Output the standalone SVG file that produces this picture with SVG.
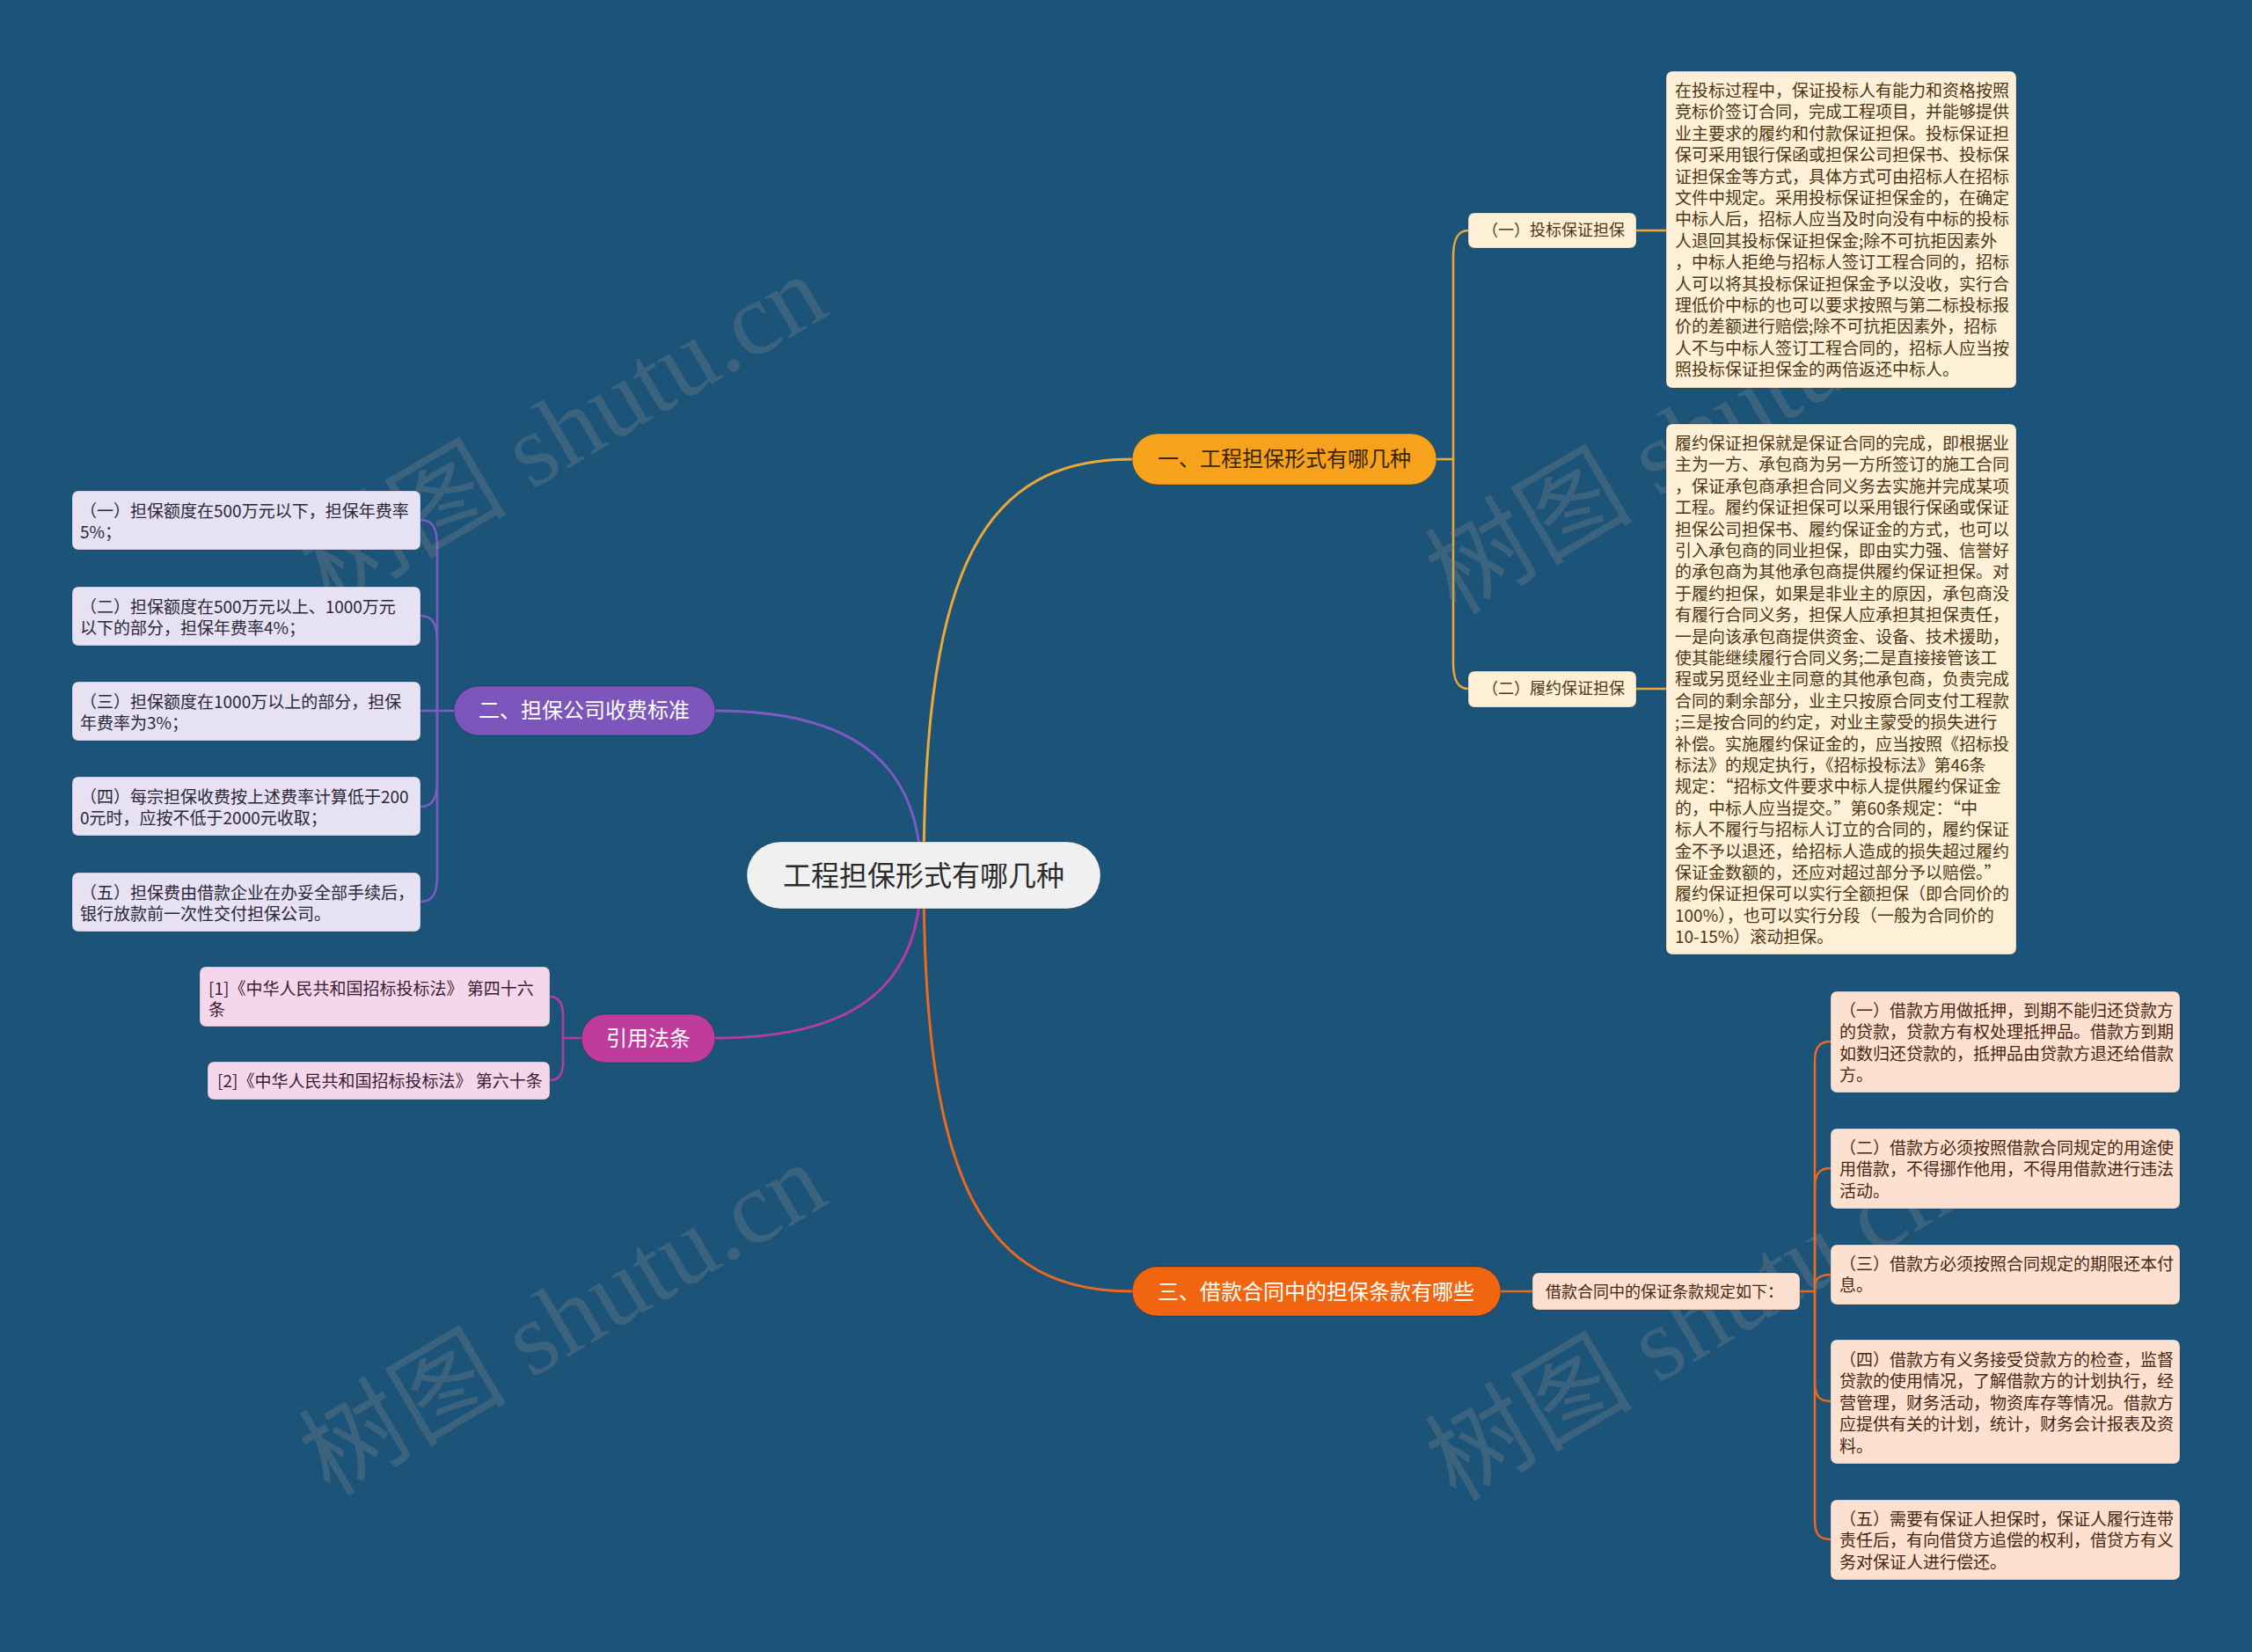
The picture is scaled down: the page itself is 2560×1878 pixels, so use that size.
<svg xmlns="http://www.w3.org/2000/svg" width="2560" height="1878" viewBox="0 0 2560 1878">
<style>
text{font-family:"Noto Sans CJK SC","Noto Sans",sans-serif}
.sm{font-size:19px}
.box{stroke:rgba(0,0,0,0.18);stroke-width:1}
.cream{fill:#fdf0d7}
.cream-t{fill:#4d3614}
.lav{fill:#e6e1f3}
.lav-t{fill:#2b2838}
.pink{fill:#f5d7ec}
.pink-t{fill:#3a1d33}
.peach{fill:#fde1d0}
.peach-t{fill:#4a2613}
.pill{font-size:24px;text-anchor:middle}
.c{fill:none;stroke-linecap:round}
.wm{font-family:"Liberation Serif","Noto Sans CJK SC",serif;font-size:118px;fill:rgba(140,140,140,0.28)}
</style>
<rect width="2560" height="1878" fill="#1c5479"/>

<g id="connectors">
  <path class="c" d="M1050 995 C1050 640 1120 522 1287 522" stroke="#eea935" stroke-width="3"/>
  <path class="c" d="M1050 995 C1050 1350 1120 1468 1287 1468" stroke="#ec6a1d" stroke-width="3"/>
  <path class="c" d="M1047 995 C1047 860 960 808 813 808" stroke="#7e5bc2" stroke-width="3"/>
  <path class="c" d="M1047 995 C1047 1130 960 1180 813 1180" stroke="#b33ea0" stroke-width="3"/>
  <g stroke="#eea935" stroke-width="2.5" class="c">
    <path class="c" d="M1633 522 H1652 V292 C1652 270 1658 262 1669 262"/>
    <path class="c" d="M1652 522 V753 C1652 775 1658 783 1669 783"/>
    <path class="c" d="M1860 262 H1894"/>
    <path class="c" d="M1860 783 H1894"/>
  </g>
  <g stroke="#7e5bc2" stroke-width="2.5" class="c">
    <path class="c" d="M516 808 H497 V621 C497 599 491 591 478 591"/>
    <path class="c" d="M497 808 V730 C497 708 491 700 478 700"/>
    <path class="c" d="M497 808 H478"/>
    <path class="c" d="M497 808 V887 C497 909 491 917 478 917"/>
    <path class="c" d="M497 808 V995 C497 1017 491 1025 478 1025"/>
  </g>
  <g stroke="#b33ea0" stroke-width="2.5" class="c">
    <path class="c" d="M661 1180 H640 V1155 C640 1141 635 1133 625 1133"/>
    <path class="c" d="M640 1180 V1208 C640 1222 635 1228 625 1228"/>
  </g>
  <g stroke="#ec6a1d" stroke-width="2.5" class="c">
    <path class="c" d="M1706 1468 H1742"/>
    <path class="c" d="M2046 1468 H2063 V1206 C2063 1190 2069 1184 2081 1184"/>
    <path class="c" d="M2063 1468 V1350 C2063 1334 2069 1328 2081 1328"/>
    <path class="c" d="M2063 1468 V1462 C2063 1454 2069 1449 2081 1449"/>
    <path class="c" d="M2063 1468 V1572 C2063 1588 2069 1593 2081 1593"/>
    <path class="c" d="M2063 1468 V1729 C2063 1745 2069 1750 2081 1750"/>
  </g>
</g>

<g id="watermarks">
  <text class="wm" transform="translate(375 692) rotate(-30.5)">树图 shutu.cn</text>
  <text class="wm" transform="translate(1655 700) rotate(-30.5)">树图 shutu.cn</text>
  <text class="wm" transform="translate(375 1702) rotate(-30.5)">树图 shutu.cn</text>
  <text class="wm" transform="translate(1655 1708) rotate(-30.5)">树图 shutu.cn</text>
</g>

<g id="center">
  <rect x="849" y="957" width="402" height="76" rx="38" fill="#f0f0f0" stroke="rgba(0,0,0,0.2)"/>
  <text x="1050" y="1007" font-size="32" text-anchor="middle" fill="#2b2b2b">工程担保形式有哪几种</text>
</g>

<g id="branch1">
  <rect x="1287" y="493" width="346" height="58" rx="29" fill="#f7a21c" stroke="rgba(0,0,0,0.25)"/>
  <text class="pill" x="1460" y="530" fill="#3a2606">一、工程担保形式有哪几种</text>
</g>
<g id="b1-sub1">
  <rect class="box cream" x="1669" y="242" width="191" height="40" rx="7"/>
  <text x="1766" y="268" font-size="18" text-anchor="middle" class="cream-t">（一）投标保证担保</text>
</g>
<g id="b1-sub2">
  <rect class="box cream" x="1669" y="763" width="191" height="41" rx="7"/>
  <text x="1766" y="789" font-size="18" text-anchor="middle" class="cream-t">（二）履约保证担保</text>
</g>
<g id="b1-text1">
  <rect class="box cream" x="1894" y="81" width="398" height="360" rx="7"/>
  <text class="sm cream-t"><tspan x="1904" y="110">在投标过程中，保证投标人有能力和资格按照</tspan><tspan x="1904" dy="24.4">竞标价签订合同，完成工程项目，并能够提供</tspan><tspan x="1904" dy="24.4">业主要求的履约和付款保证担保。投标保证担</tspan><tspan x="1904" dy="24.4">保可采用银行保函或担保公司担保书、投标保</tspan><tspan x="1904" dy="24.4">证担保金等方式，具体方式可由招标人在招标</tspan><tspan x="1904" dy="24.4">文件中规定。采用投标保证担保金的，在确定</tspan><tspan x="1904" dy="24.4">中标人后，招标人应当及时向没有中标的投标</tspan><tspan x="1904" dy="24.4">人退回其投标保证担保金;除不可抗拒因素外</tspan><tspan x="1904" dy="24.4">，中标人拒绝与招标人签订工程合同的，招标</tspan><tspan x="1904" dy="24.4">人可以将其投标保证担保金予以没收，实行合</tspan><tspan x="1904" dy="24.4">理低价中标的也可以要求按照与第二标投标报</tspan><tspan x="1904" dy="24.4">价的差额进行赔偿;除不可抗拒因素外，招标</tspan><tspan x="1904" dy="24.4">人不与中标人签订工程合同的，招标人应当按</tspan><tspan x="1904" dy="24.4">照投标保证担保金的两倍返还中标人。</tspan></text>
</g>
<g id="b1-text2">
  <rect class="box cream" x="1894" y="482" width="398" height="603" rx="7"/>
  <text class="sm cream-t"><tspan x="1904" y="511">履约保证担保就是保证合同的完成，即根据业</tspan><tspan x="1904" dy="24.4">主为一方、承包商为另一方所签订的施工合同</tspan><tspan x="1904" dy="24.4">，保证承包商承担合同义务去实施并完成某项</tspan><tspan x="1904" dy="24.4">工程。履约保证担保可以采用银行保函或保证</tspan><tspan x="1904" dy="24.4">担保公司担保书、履约保证金的方式，也可以</tspan><tspan x="1904" dy="24.4">引入承包商的同业担保，即由实力强、信誉好</tspan><tspan x="1904" dy="24.4">的承包商为其他承包商提供履约保证担保。对</tspan><tspan x="1904" dy="24.4">于履约担保，如果是非业主的原因，承包商没</tspan><tspan x="1904" dy="24.4">有履行合同义务，担保人应承担其担保责任，</tspan><tspan x="1904" dy="24.4">一是向该承包商提供资金、设备、技术援助，</tspan><tspan x="1904" dy="24.4">使其能继续履行合同义务;二是直接接管该工</tspan><tspan x="1904" dy="24.4">程或另觅经业主同意的其他承包商，负责完成</tspan><tspan x="1904" dy="24.4">合同的剩余部分，业主只按原合同支付工程款</tspan><tspan x="1904" dy="24.4">;三是按合同的约定，对业主蒙受的损失进行</tspan><tspan x="1904" dy="24.4">补偿。实施履约保证金的，应当按照《招标投</tspan><tspan x="1904" dy="24.4">标法》的规定执行，《招标投标法》第46条</tspan><tspan x="1904" dy="24.4">规定：“招标文件要求中标人提供履约保证金</tspan><tspan x="1904" dy="24.4">的，中标人应当提交。”第60条规定：“中</tspan><tspan x="1904" dy="24.4">标人不履行与招标人订立的合同的，履约保证</tspan><tspan x="1904" dy="24.4">金不予以退还，给招标人造成的损失超过履约</tspan><tspan x="1904" dy="24.4">保证金数额的，还应对超过部分予以赔偿。”</tspan><tspan x="1904" dy="24.4">履约保证担保可以实行全额担保（即合同价的</tspan><tspan x="1904" dy="24.4">100%），也可以实行分段（一般为合同价的</tspan><tspan x="1904" dy="24.4">10-15%）滚动担保。</tspan></text>
</g>

<g id="branch2">
  <rect x="516" y="780" width="297" height="56" rx="28" fill="#7c56bb" stroke="rgba(0,0,0,0.25)"/>
  <text class="pill" x="664" y="816" fill="#ffffff">二、担保公司收费标准</text>
</g>
<g id="b2-1">
  <rect class="box lav" x="82" y="558" width="396" height="67" rx="7"/>
  <text class="sm lav-t"><tspan x="91" y="588">（一）担保额度在500万元以下，担保年费率</tspan><tspan x="91" dy="24.4">5%；</tspan></text>
</g>
<g id="b2-2">
  <rect class="box lav" x="82" y="667" width="396" height="67" rx="7"/>
  <text class="sm lav-t"><tspan x="91" y="697">（二）担保额度在500万元以上、1000万元</tspan><tspan x="91" dy="24.4">以下的部分，担保年费率4%；</tspan></text>
</g>
<g id="b2-3">
  <rect class="box lav" x="82" y="775" width="396" height="67" rx="7"/>
  <text class="sm lav-t"><tspan x="91" y="805">（三）担保额度在1000万以上的部分，担保</tspan><tspan x="91" dy="24.4">年费率为3%；</tspan></text>
</g>
<g id="b2-4">
  <rect class="box lav" x="82" y="883" width="396" height="67" rx="7"/>
  <text class="sm lav-t"><tspan x="91" y="913">（四）每宗担保收费按上述费率计算低于200</tspan><tspan x="91" dy="24.4">0元时，应按不低于2000元收取；</tspan></text>
</g>
<g id="b2-5">
  <rect class="box lav" x="82" y="992" width="396" height="67" rx="7"/>
  <text class="sm lav-t"><tspan x="91" y="1022">（五）担保费由借款企业在办妥全部手续后，</tspan><tspan x="91" dy="24.4">银行放款前一次性交付担保公司。</tspan></text>
</g>

<g id="branch-ref">
  <rect x="661" y="1153" width="152" height="55" rx="27.5" fill="#c03c9c" stroke="rgba(0,0,0,0.25)"/>
  <text class="pill" x="737" y="1189" fill="#ffffff">引用法条</text>
</g>
<g id="ref-1">
  <rect class="box pink" x="227" y="1099" width="398" height="68" rx="7"/>
  <text class="sm pink-t"><tspan x="237" y="1131">[1]《中华人民共和国招标投标法》 第四十六</tspan><tspan x="237" dy="24.4">条</tspan></text>
</g>
<g id="ref-2">
  <rect class="box pink" x="236" y="1207" width="389" height="43" rx="7"/>
  <text class="sm pink-t" x="247" y="1236">[2]《中华人民共和国招标投标法》 第六十条</text>
</g>

<g id="branch3">
  <rect x="1287" y="1440" width="419" height="56" rx="28" fill="#f26510" stroke="rgba(0,0,0,0.25)"/>
  <text class="pill" x="1496" y="1477" fill="#ffffff">三、借款合同中的担保条款有哪些</text>
</g>
<g id="b3-sub">
  <rect class="box peach" x="1742" y="1447" width="304" height="42" rx="7"/>
  <text x="1892" y="1475" font-size="18" text-anchor="middle" class="peach-t">借款合同中的保证条款规定如下：</text>
</g>
<g id="b3-1">
  <rect class="box peach" x="2081" y="1127" width="397" height="115" rx="7"/>
  <text class="sm peach-t"><tspan x="2091" y="1156">（一）借款方用做抵押，到期不能归还贷款方</tspan><tspan x="2091" dy="24.4">的贷款，贷款方有权处理抵押品。借款方到期</tspan><tspan x="2091" dy="24.4">如数归还贷款的，抵押品由贷款方退还给借款</tspan><tspan x="2091" dy="24.4">方。</tspan></text>
</g>
<g id="b3-2">
  <rect class="box peach" x="2081" y="1283" width="397" height="91" rx="7"/>
  <text class="sm peach-t"><tspan x="2091" y="1312">（二）借款方必须按照借款合同规定的用途使</tspan><tspan x="2091" dy="24.4">用借款，不得挪作他用，不得用借款进行违法</tspan><tspan x="2091" dy="24.4">活动。</tspan></text>
</g>
<g id="b3-3">
  <rect class="box peach" x="2081" y="1415" width="397" height="68" rx="7"/>
  <text class="sm peach-t"><tspan x="2091" y="1444">（三）借款方必须按照合同规定的期限还本付</tspan><tspan x="2091" dy="24.4">息。</tspan></text>
</g>
<g id="b3-4">
  <rect class="box peach" x="2081" y="1523" width="397" height="141" rx="7"/>
  <text class="sm peach-t"><tspan x="2091" y="1553">（四）借款方有义务接受贷款方的检查，监督</tspan><tspan x="2091" dy="24.4">贷款的使用情况，了解借款方的计划执行，经</tspan><tspan x="2091" dy="24.4">营管理，财务活动，物资库存等情况。借款方</tspan><tspan x="2091" dy="24.4">应提供有关的计划，统计，财务会计报表及资</tspan><tspan x="2091" dy="24.4">料。</tspan></text>
</g>
<g id="b3-5">
  <rect class="box peach" x="2081" y="1705" width="397" height="91" rx="7"/>
  <text class="sm peach-t"><tspan x="2091" y="1734">（五）需要有保证人担保时，保证人履行连带</tspan><tspan x="2091" dy="24.4">责任后，有向借贷方追偿的权利，借贷方有义</tspan><tspan x="2091" dy="24.4">务对保证人进行偿还。</tspan></text>
</g>
</svg>
